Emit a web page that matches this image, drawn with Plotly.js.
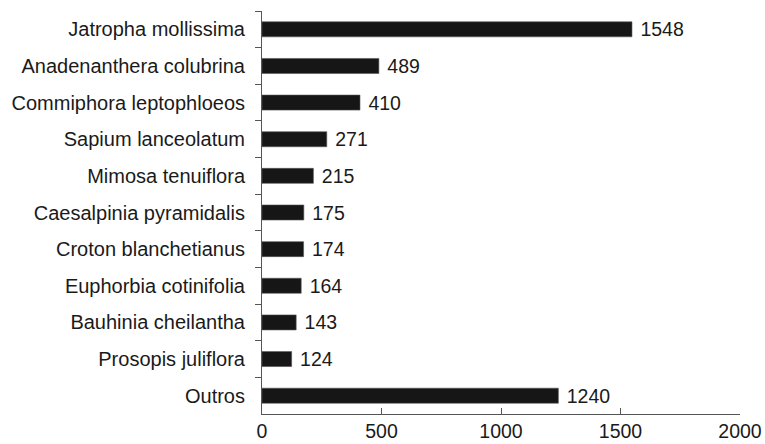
<!DOCTYPE html>
<html>
<head>
<meta charset="utf-8">
<script src="https://cdn.plot.ly/plotly-3.0.1.min.js"></script>
<style>html,body{margin:0;padding:0;background:#fff}#chart{width:765px;height:444px}</style>
</head>
<body>
<div id="chart"></div>
<script>
const species = ["Jatropha mollissima","Anadenanthera colubrina","Commiphora leptophloeos","Sapium lanceolatum","Mimosa tenuiflora","Caesalpinia pyramidalis","Croton blanchetianus","Euphorbia cotinifolia","Bauhinia cheilantha","Prosopis juliflora","Outros"];
const counts = [1548,489,410,271,215,175,174,164,143,124,1240];
const xTicks = [0,500,1000,1500,2000];

const trace = {
  type: "bar",
  orientation: "h",
  y: species,
  x: counts,
  width: 0.41,
  marker: {color: "#161616", line: {width: 0.6, color: "#555"}},
  text: counts.map(v => " " + v),
  textposition: "outside",
  constraintext: "none",
  textfont: {family: "Liberation Sans, Arial, sans-serif", size: 19.5, color: "#1a1a1a"},
  cliponaxis: false,
  hoverinfo: "none"
};

const layout = {
  width: 765, height: 444,
  margin: {l: 262, r: 25, t: 11, b: 30},
  paper_bgcolor: "#fff", plot_bgcolor: "#fff",
  showlegend: false,
  font: {family: "Liberation Sans, Arial, sans-serif", size: 19.5, color: "#1a1a1a"},
  xaxis: {
    range: [0, 2000],
    tickvals: xTicks,
    ticktext: xTicks.map(String),
    ticks: "inside", ticklen: 6, tickcolor: "#555", tickwidth: 1,
    showline: true, linecolor: "#555", linewidth: 1,
    showgrid: false, zeroline: false,
    tickfont: {size: 19.5}
  },
  yaxis: {
    type: "category",
    categoryorder: "array",
    categoryarray: species,
    autorange: "reversed",
    ticks: "outside", ticklen: 6, tickcolor: "#555", tickwidth: 1,
    tickson: "boundaries",
    showline: true, linecolor: "#555", linewidth: 1,
    showgrid: false, zeroline: false,
    ticklabelstandoff: 12,
    tickfont: {size: 20}
  }
};

Plotly.newPlot("chart", [trace], layout, {staticPlot: true, displayModeBar: false});
</script>
</body>
</html>
